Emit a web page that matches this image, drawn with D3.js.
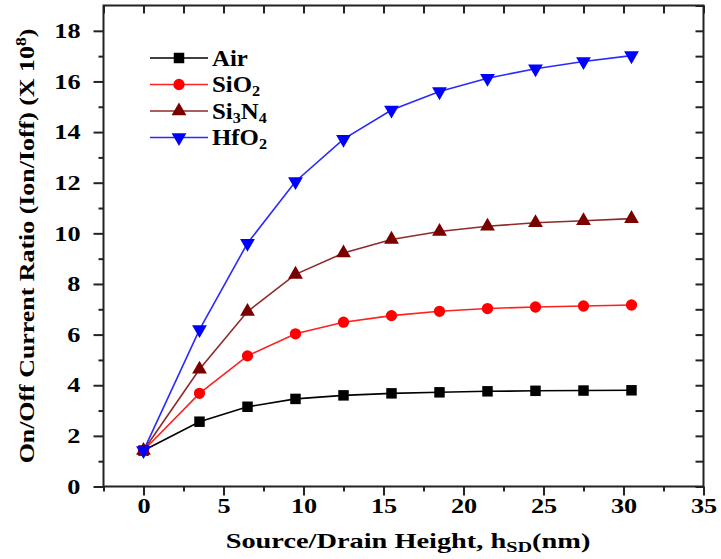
<!DOCTYPE html>
<html>
<head>
<meta charset="utf-8">
<script src="https://cdn.jsdelivr.net/npm/d3@7"></script>
<style>
body{margin:0;background:#fff}
text{font-family:"Liberation Serif","Times New Roman",serif;font-weight:bold}
</style>
</head>
<body>
<script>
// values
var heights=[0,3.5,6.5,9.5,12.5,15.5,18.5,21.5,24.5,27.5,30.5]
var air=[1.42,2.56,3.15,3.46,3.6,3.68,3.72,3.76,3.78,3.79,3.8]
var sio2=[1.42,3.68,5.16,6.03,6.49,6.75,6.92,7.03,7.09,7.13,7.17]
var si3n4=[1.42,4.63,6.91,8.38,9.22,9.76,10.07,10.28,10.42,10.5,10.58]
var hfo2=[1.42,6.2,9.61,12.05,13.72,14.87,15.6,16.13,16.5,16.79,17.02]
var hidden=[1.42] // green point hidden under the others at h=0
var xTicks=[0,5,10,15,20,25,30,35]
var yTicks=[0,2,4,6,8,10,12,14,16,18]

var series=[
	{name:"Air",sub:"",tail:"",vals:air,line:"#000",fill:"#000",shape:"square"},
	{name:"SiO",sub:"2",tail:"",vals:sio2,line:"#ff2020",fill:"#ff0000",shape:"circle"},
	{name:"Si",sub:"3",tail:"N",sub2:"4",vals:si3n4,line:"#8f2a2a",fill:"#7a0000",shape:"up"},
	{name:"HfO",sub:"2",tail:"",vals:hfo2,line:"#2a2aff",fill:"#0000ff",shape:"down"}
]

var W=721,H=559
var m={left:103.5,top:5.5,right:17.5,bottom:72.5}
var svg=d3.select("body").append("svg").attr("width",W).attr("height",H)

var x=d3.scaleLinear().domain([-2.5,35]).range([m.left,W-m.right])
var y=d3.scaleLinear().domain([0,19]).range([H-m.bottom,m.top])

function shape(s){
	if(s=="square") return d3.symbol().type(d3.symbolSquare).size(110)()
	if(s=="circle") return d3.symbol().type(d3.symbolCircle).size(100)()
	if(s=="diamond") return d3.symbol().type(d3.symbolDiamond).size(60)()
	return d3.symbol().type(d3.symbolTriangle).size(95)()
}
// the picture is a bit wide: text is stretched sideways
function stretch(sel,s){
	sel.each(function(){
		var t=d3.select(this),tx=+t.attr("x")||0
		t.attr("x",0).attr("transform","translate("+tx+",0) scale("+s+",1)")
	})
}
// squeeze/stretch a centred title to a given length
function fit(t,cx,cy,rot,len){
	var w=t.node().getBBox().width
	t.attr("transform","translate("+cx+","+cy+") rotate("+rot+") scale("+(len/w)+",1)")
}

// frame
var axisCol="#222"
var g=svg.append("g")
var bottom=g.append("g").attr("transform","translate(0,"+(H-m.bottom)+")")
	.call(d3.axisBottom(x).tickValues(xTicks).tickSize(9).tickPadding(3).tickFormat(d3.format("d")))
bottom.append("g").call(d3.axisBottom(x).tickValues(d3.range(-2.5,35,5)).tickSize(5).tickFormat(""))
var left=g.append("g").attr("transform","translate("+m.left+",0)")
	.call(d3.axisLeft(y).tickValues(yTicks).tickSize(10).tickPadding(13))
left.append("g").call(d3.axisLeft(y).tickValues(d3.range(1,19,2)).tickSize(5).tickFormat(""))
g.append("g").attr("transform","translate(0,"+m.top+")")
	.call(d3.axisTop(x).tickValues(d3.range(-2.5,35.1,2.5)).tickSize(-8).tickFormat(""))
g.append("g").attr("transform","translate("+(W-m.right)+",0)")
	.call(d3.axisRight(y).tickValues(d3.range(0,19.1,1)).tickSize(-8).tickFormat(""))
g.selectAll(".domain").remove()
g.selectAll(".tick line").attr("stroke",axisCol).attr("stroke-width",2)
g.selectAll(".tick text").attr("fill","#000").attr("font-size",21)
	.attr("font-family","Liberation Serif").attr("font-weight","bold")
stretch(g.selectAll(".tick text"),1.25)
svg.append("rect").attr("x",m.left).attr("y",m.top)
	.attr("width",W-m.left-m.right).attr("height",H-m.top-m.bottom)
	.attr("fill","none").attr("stroke",axisCol).attr("stroke-width",2)

// lines + markers
var line=d3.line().x((d,i)=>x(heights[i])).y(d=>y(d))
for(const s of series){
	svg.append("path").attr("d",line(s.vals)).attr("fill","none")
		.attr("stroke",s.line).attr("stroke-width",1.6)
}
svg.append("path").attr("d",shape("diamond"))
	.attr("transform","translate("+x(heights[0])+","+y(hidden[0])+")").attr("fill","#22cc22")
for(const s of series){
	svg.selectAll(null).data(s.vals).join("path")
		.attr("d",shape(s.shape))
		.attr("transform",(d,i)=>"translate("+x(heights[i])+","+y(d)+")"+(s.shape=="down"?" rotate(180)":""))
		.attr("fill",s.fill)
}

// legend
var leg=svg.append("g")
series.forEach((s,i)=>{
	var ly=58+i*26.5
	leg.append("line").attr("x1",150).attr("x2",208).attr("y1",ly).attr("y2",ly)
		.attr("stroke",s.line).attr("stroke-width",1.6)
	leg.append("path").attr("d",shape(s.shape))
		.attr("transform","translate(179,"+ly+")"+(s.shape=="down"?" rotate(180)":"")).attr("fill",s.fill)
	var t=leg.append("text").attr("x",212).attr("y",ly+8).attr("font-size",23).attr("fill","#000")
	t.append("tspan").text(s.name)
	if(s.sub) t.append("tspan").attr("dy",4).attr("font-size",15).text(s.sub)
	if(s.tail) t.append("tspan").attr("dy",-4).text(s.tail)
	if(s.sub2) t.append("tspan").attr("dy",4).attr("font-size",15).text(s.sub2)
	stretch(t,1.08)
})

// axis titles
var xt=svg.append("text").attr("text-anchor","middle")
	.attr("font-size",21).attr("fill","#000")
xt.append("tspan").text("Source/Drain Height, h")
xt.append("tspan").attr("dy",4).attr("font-size",15).text("SD")
xt.append("tspan").attr("dy",-4).text("(nm)")
fit(xt,408,548,0,365)

var yt=svg.append("text").attr("text-anchor","middle")
	.attr("font-size",22).attr("fill","#000")
yt.append("tspan").text("On/Off Current Ratio (Ion/Ioff) (X 10")
yt.append("tspan").attr("dy",-8).attr("font-size",15).text("8")
yt.append("tspan").attr("dy",8).text(")")
fit(yt,34,246,-90,435)
</script>
</body>
</html>
